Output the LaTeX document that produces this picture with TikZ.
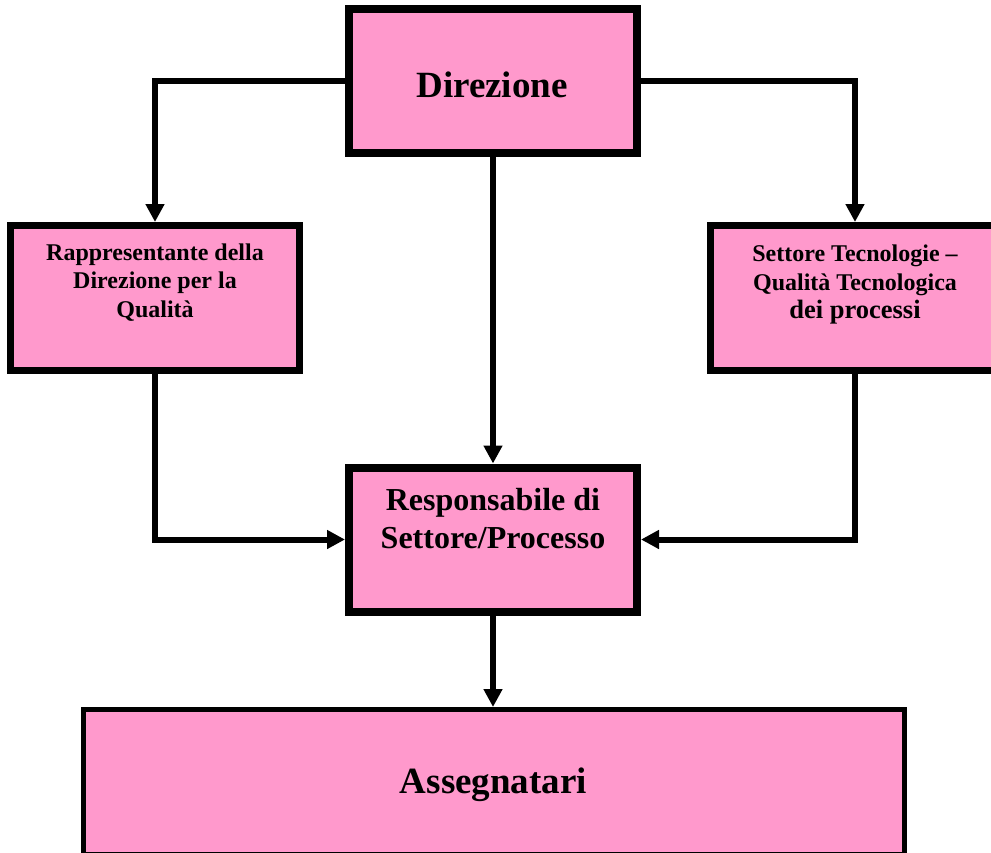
\documentclass[tikz,border=0pt]{standalone}
\usepackage{fontspec}
\setmainfont{Liberation Serif}
\usetikzlibrary{arrows.meta}

\definecolor{boxpink}{RGB}{255,153,204}

\tikzset{
  orgbox/.style={draw=black, fill=boxpink, line width=8pt, line join=miter,
    inner sep=0pt, minimum width=288pt, minimum height=144pt},
  sidebox/.style={orgbox, line width=7pt, minimum width=289pt, minimum height=145pt},
  basebox/.style={orgbox, line width=5pt, minimum width=821pt, minimum height=145pt},
  boxtext/.style={anchor=base, align=center, inner sep=0pt, text=black},
  conn/.style={draw=black, line width=6pt, line join=miter,
    -{Triangle[length=18pt,width=18pt]}}
}

\begin{document}
\begin{tikzpicture}[x=1pt, y=-1pt]
  \clip (0,0) rectangle (991,852);
  \fill[white] (0,0) rectangle (991,852);

  % boxes
  \node[orgbox]  (dir)  at (493,81)    {};
  \node[sidebox] (rdq)  at (155,298)   {};
  \node[sidebox] (stq)  at (855,298)   {};
  \node[orgbox]  (resp) at (493,539.5) {};
  \node[basebox] (ass)  at (493.5,782) {};

  % labels (base anchor sits on the last line)
  \node[boxtext, font=\fontsize{37}{42}\selectfont\bfseries] (dir-t) at (492,97) {Direzione};
  \node[boxtext, font=\fontsize{24}{28.2}\selectfont\bfseries] (rdq-t) at (155,317)
    {Rappresentante della\\Direzione per la\\Qualità};
  \node[boxtext, font=\fontsize{24}{29}\selectfont\bfseries] (stq-t) at (855,318)
    {Settore Tecnologie –\\Qualità Tecnologica\\[-1pt]{\fontsize{26.5}{29}\selectfont dei processi}};
  \node[boxtext, font=\fontsize{32}{38}\selectfont\bfseries] (resp-t) at (493,548)
    {Responsabile di\\Settore/Processo};
  \node[boxtext, font=\fontsize{37}{42}\selectfont\bfseries] (ass-t) at (493.5,793) {Assegnatari};

  % connectors
  \draw[conn] (dir.west) -| (rdq.north);
  \draw[conn] (dir.east) -| (stq.north);
  \draw[conn] (dir.south) -- (resp.north);
  \draw[conn] (rdq.south) |- (resp.west);
  \draw[conn] (stq.south) |- (resp.east);
  \draw[conn] (resp.south) -- (resp.south |- ass.north);
\end{tikzpicture}
\end{document}
